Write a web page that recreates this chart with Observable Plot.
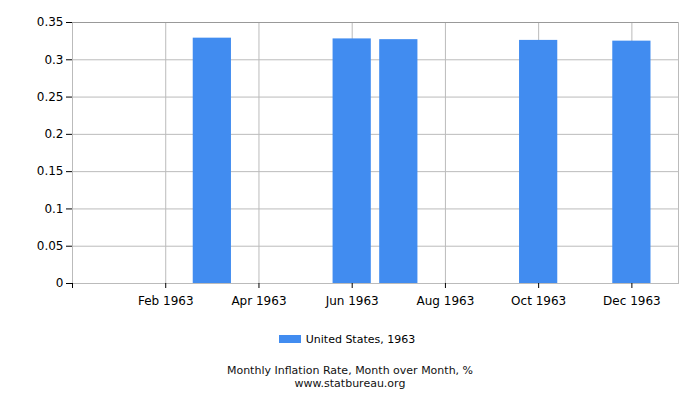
<!DOCTYPE html>
<html><head><meta charset="utf-8">
<script src="https://cdn.jsdelivr.net/npm/d3@7"></script>
<script src="https://cdn.jsdelivr.net/npm/@observablehq/plot@0.6"></script>
<style>
body{margin:0;background:#fff;font-family:"DejaVu Sans",sans-serif;}
#wrap{position:relative;width:700px;height:400px;overflow:hidden;}
#chart{position:absolute;left:0;top:0;}
#legend{position:absolute;left:-3px;width:700px;top:333px;text-align:center;font-size:11px;color:#000;line-height:14px;}
#legend .sw{display:inline-block;width:22px;height:8px;background:#418cf0;margin-right:5px;vertical-align:0px;}
#caption{position:absolute;left:0;width:700px;top:364px;text-align:center;font-size:11px;color:#111;line-height:13px;}
</style></head><body>
<div id="wrap"><div id="chart"></div>
<div id="legend"><span class="sw"></span><span id="legtext"></span></div>
<div id="caption"><div id="cap1"></div><div id="cap2"></div></div>
</div>
<script>
const months = ["Jan 1963","Feb 1963","Mar 1963","Apr 1963","May 1963","Jun 1963","Jul 1963","Aug 1963","Sep 1963","Oct 1963","Nov 1963","Dec 1963"];
const monthIndex = [1,2,3,4,5,6,7,8,9,10,11,12];
const values = [0,0,0.329,0,0,0.328,0.327,0,0,0.326,0,0.325];
const xTicks = [0,2,4,6,8,10,12];
const xTickLabels = ["","Feb 1963","Apr 1963","Jun 1963","Aug 1963","Oct 1963","Dec 1963"];
const yTicks = [0,0.05,0.1,0.15,0.2,0.25,0.3,0.35];
const yTickLabels = ["0","0.05","0.1","0.15","0.2","0.25","0.3","0.35"];
const seriesName = "United States, 1963";
const captionLines = ["Monthly Inflation Rate, Month over Month, %","www.statbureau.org"];
const barColor = "#418cf0";

const data = months.map((m,i)=>({month: monthIndex[i], label: m, value: values[i]}));
const barHalf = 0.41;

const plot = Plot.plot({
  width:700, height:320,
  marginLeft:72, marginRight:22, marginTop:22, marginBottom:37,
  x:{domain:[0,13], axis:null, label:null},
  y:{domain:[0,0.35], axis:null, label:null},
  style:{fontFamily:"DejaVu Sans, sans-serif", fontSize:"12px", color:"#000", background:"#fff"},
  marks:[
    Plot.gridY(yTicks, {stroke:"#bbb", strokeOpacity:1}),
    Plot.gridX(xTicks.slice(1), {stroke:"#bbb", strokeOpacity:1}),
    Plot.frame({stroke:"#bbb", strokeOpacity:1}),
    Plot.ruleY([0.35], {stroke:"#999"}),
    Plot.rectY(data.filter(d=>d.value>0), {x1: d=>d.month-barHalf, x2: d=>d.month+barHalf, y:"value", fill:barColor}),
    Plot.axisY(yTicks, {tickFormat:(d,i)=>yTickLabels[i], tickSize:6, tickPadding:3, stroke:"#000", fill:"#000", label:null}),
    Plot.axisX(xTicks, {tickFormat:(d,i)=>xTickLabels[i], tickSize:5, tickPadding:8, stroke:"#000", fill:"#000", label:null})
  ]
});
document.getElementById("chart").appendChild(plot);
document.getElementById("legtext").textContent = seriesName;
document.getElementById("cap1").textContent = captionLines[0];
document.getElementById("cap2").textContent = captionLines[1];
</script>
</body></html>
